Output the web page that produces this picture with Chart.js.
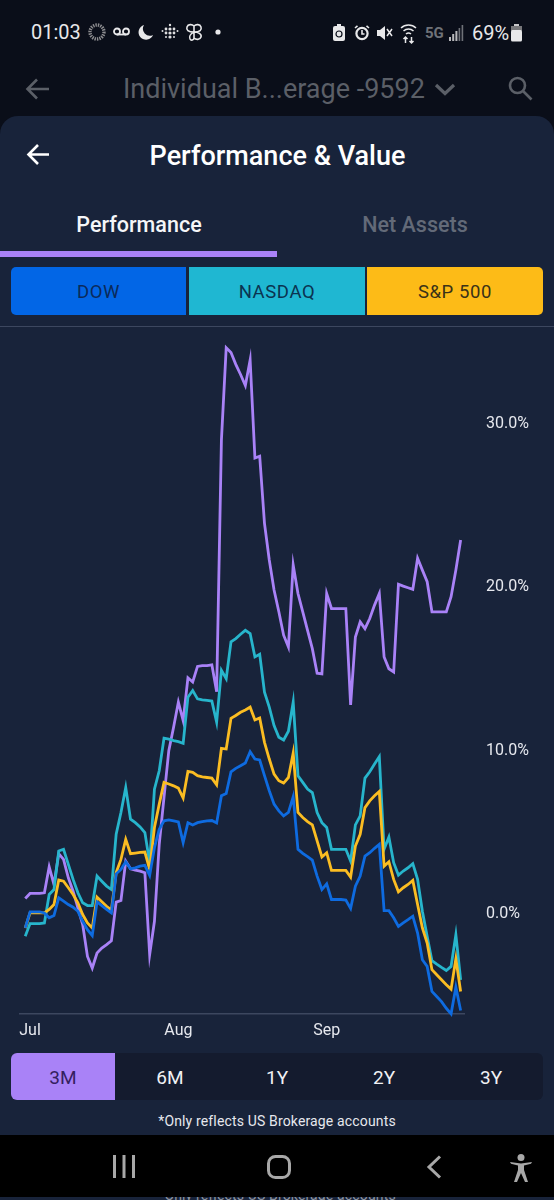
<!DOCTYPE html>
<html><head><meta charset="utf-8">
<script src="https://cdn.jsdelivr.net/npm/chart.js@4"></script>
<style>
html,body{margin:0;padding:0;width:554px;height:1200px;overflow:hidden;background:#0a0e19;font-family:Roboto,sans-serif}
.a{position:absolute;white-space:nowrap;line-height:1}
.c{transform:translateX(-50%)}
#panel{position:absolute;left:0;top:116px;width:554px;height:1019px;background:#18233a;border-radius:18px 18px 0 0}
#nav{position:absolute;left:0;top:1135px;width:554px;height:62px;background:#000}
#strip{position:absolute;left:0;top:1197px;width:554px;height:3px;background:#18233a;overflow:hidden}
.btn{position:absolute;top:267px;height:48px;line-height:50px;text-align:center;font-size:18.5px;letter-spacing:.6px}
canvas{position:absolute;left:0;top:302px}
svg{position:absolute;overflow:visible}
</style></head><body>
<div class="a" style="left:31px;top:22px;font-size:20px;color:#e8e8ea">01:03</div>
<svg style="left:88px;top:23px" width="18" height="18" fill="none"><circle cx="9" cy="9" r="7" stroke="#8d8d90" stroke-width="3.4" stroke-dasharray="1.4 1"/></svg>
<svg style="left:112px;top:27px" width="20" height="10" fill="none" stroke="#e8e8ea" stroke-width="1.8"><circle cx="5" cy="4.5" r="3"/><circle cx="14" cy="4.5" r="3"/><path d="M5 7.5H14"/></svg>
<svg style="left:138px;top:24px" width="16" height="16" fill="#e8e8ea"><path d="M6 1A7.5 7.5 0 1 0 15 11 A7 7 0 0 1 6 1Z"/></svg>
<svg style="left:161px;top:23px" width="18" height="18" fill="#e0e0e2"><circle cx="9" cy="2" r="1.2"/><circle cx="9" cy="6" r="1.6"/><circle cx="9" cy="10" r="1.6"/><circle cx="9" cy="14" r="1.6"/><circle cx="5" cy="6" r="1.4"/><circle cx="5" cy="10" r="1.4"/><circle cx="13" cy="6" r="1.4"/><circle cx="13" cy="10" r="1.4"/><circle cx="1.5" cy="8" r="1"/><circle cx="16.5" cy="8" r="1"/><circle cx="5" cy="14" r="1"/><circle cx="13" cy="14" r="1"/></svg>
<svg style="left:185px;top:23px" width="18" height="18" fill="none" stroke="#e8e8ea" stroke-width="1.6"><path d="M9 9C3 9 1 7 2 4S7 1 9 3V15C9 17 6 18 5 16S5 11 9 9C15 9 17 7 16 4S11 1 9 3M9 9C13 9 17 11 16 14S11 17 9 15"/></svg>
<svg style="left:215px;top:29px" width="6" height="6" fill="#e8e8ea"><circle cx="3" cy="3" r="2.6"/></svg>
<svg style="left:333px;top:24px" width="13" height="18" fill="#e8e8ea"><rect x="0" y="2" width="12" height="15" rx="2"/><rect x="4" y="0" width="4" height="3"/><circle cx="6" cy="10" r="3" fill="none" stroke="#0a0e19" stroke-width="1.2"/></svg>
<svg style="left:354px;top:25px" width="16" height="16" fill="none" stroke="#e8e8ea" stroke-width="2.2"><circle cx="8" cy="8.5" r="5.6"/><path d="M8 5V9H10.5M1 3L3.5 .8M15 3L12.5 .8" stroke-width="1.6"/></svg>
<svg style="left:377px;top:25px" width="16" height="16" fill="#e8e8ea"><path d="M0 5H3L8 1V15L3 11H0Z"/><path d="M10 4L15 11M15 4L10 11" stroke="#e8e8ea" stroke-width="1.5"/></svg>
<svg style="left:400px;top:23px" width="17" height="20" fill="none" stroke="#e8e8ea" stroke-width="1.5"><path d="M1 5A11 11 0 0 1 16 5M3.5 8A7.5 7.5 0 0 1 13.5 8M6 11A4 4 0 0 1 11 11"/><path d="M5.5 14V20M3.5 16L5.5 14L7.5 16M11.5 20V14M9.5 18L11.5 20L13.5 18"/></svg>
<div class="a" style="left:425px;top:26px;font-size:15px;font-weight:700;color:#6f7278">5G</div>
<svg style="left:449px;top:25px" width="15" height="16" fill="#b8b8bb"><rect x="0" y="12" width="2" height="4"/><rect x="3.2" y="9" width="2" height="7"/><rect x="6.4" y="6" width="2" height="10"/><rect x="9.6" y="3" width="1.6" height="13" fill="#6f7278"/><rect x="12.6" y="0" width="1.6" height="16" fill="#6f7278"/></svg>
<div class="a" style="left:472px;top:23px;font-size:20px;color:#e8e8ea">69%</div>
<svg style="left:511px;top:24px" width="11" height="18"><rect x="3" y="0" width="5" height="2" fill="#c8c8ca"/><rect x="0" y="2" width="11" height="5" fill="#77777a"/><rect x="0" y="6" width="11" height="11.5" rx="1.5" fill="#e8e8ea"/></svg>

<svg style="left:26px;top:77px" width="24" height="24" fill="none" stroke="#5b5f67" stroke-width="2.6"><path d="M23 12H2M11 2.5L1.5 12L11 21.5"/></svg>
<div class="a" style="left:123px;top:76px;font-size:27px;color:#5b5f67">Individual B...erage -9592</div>
<svg style="left:434px;top:83px" width="22" height="13" fill="none" stroke="#5b5f67" stroke-width="3.2"><path d="M2 2L11 10.5L20 2"/></svg>
<svg style="left:508px;top:76px" width="25" height="25" fill="none" stroke="#5b5f67" stroke-width="2.6"><circle cx="9.5" cy="9.5" r="7.5"/><path d="M15 15L23.5 23.5"/></svg>

<div id="panel"></div>
<svg style="left:27px;top:143px" width="23" height="23" fill="none" stroke="#fff" stroke-width="2.6"><path d="M22 11.5H2M11 2L1.5 11.5L11 21"/></svg>
<div class="a c" style="left:277.5px;top:143px;font-size:27px;font-weight:500;color:#fff">Performance &amp; Value</div>
<div class="a c" style="left:139px;top:214px;font-size:21.5px;font-weight:500;color:#f5f6f8">Performance</div>
<div class="a c" style="left:415px;top:214px;font-size:21.5px;font-weight:500;color:#636a78">Net Assets</div>
<div style="position:absolute;left:0;top:251px;width:277px;height:6px;background:#a982f7"></div>

<div class="btn" style="left:11px;width:175px;background:#0266e6;color:#0b2a5a;border-radius:5px 0 0 5px">DOW</div>
<div class="btn" style="left:189px;width:176px;background:#1fb7d2;color:#0b3350">NASDAQ</div>
<div class="btn" style="left:367px;width:176px;background:#fdbb17;color:#3a3218;border-radius:0 5px 5px 0">S&amp;P 500</div>
<div style="position:absolute;left:0;top:326px;width:554px;height:1px;background:#3c475f"></div>

<canvas id="chart" width="554" height="748"></canvas>

<div style="position:absolute;left:11px;top:1053px;width:532px;height:47px;background:#141b2e;border-radius:6px"></div>
<div style="position:absolute;left:11px;top:1053px;width:104px;height:47px;background:#a982f7;border-radius:6px 0 0 6px"></div>
<div class="a c" style="left:63px;top:1068px;font-size:19px;color:#35205f">3M</div>
<div class="a c" style="left:170px;top:1068px;font-size:19px;color:#f0f1f4">6M</div>
<div class="a c" style="left:277px;top:1068px;font-size:19px;color:#f0f1f4">1Y</div>
<div class="a c" style="left:384px;top:1068px;font-size:19px;color:#f0f1f4">2Y</div>
<div class="a c" style="left:491px;top:1068px;font-size:19px;color:#f0f1f4">3Y</div>
<div class="a c" style="left:277px;top:1114px;font-size:14px;letter-spacing:.15px;color:#e6e8ee">*Only reflects US Brokerage accounts</div>

<div id="nav"></div>
<svg style="left:113px;top:1155px" width="22" height="24" fill="#a8a8a8"><rect x="0" y="0" width="3" height="23"/><rect x="9.5" y="0" width="3" height="23"/><rect x="19" y="0" width="3" height="23"/></svg>
<svg style="left:267px;top:1155px" width="24" height="24" fill="none" stroke="#a8a8a8" stroke-width="3"><rect x="1.5" y="1.5" width="21" height="21" rx="7"/></svg>
<svg style="left:427px;top:1155px" width="15" height="24" fill="none" stroke="#a8a8a8" stroke-width="3"><path d="M13 1.5L2 12L13 22.5"/></svg>
<svg style="left:510px;top:1162px" width="22" height="30" fill="#a8a8a8" transform="translate(0,-8)"><circle cx="11" cy="3.5" r="3.5"/><path d="M0 8L1 9.8L8 11.5V16L4 28H7L11 19L15 28H18L14 16V11.5L21 9.8L22 8L11 9.5Z"/></svg>
<div id="strip"><div class="a c" style="left:277px;top:-9px;font-size:14px;letter-spacing:.15px;color:#8d93a0">*Only reflects US Brokerage accounts</div></div>

<script>
const monthLabels = ['Jul','Aug','Sep'];
const monthTickDays = [1,32,63];
const yTickValues = [0,10,20,30];
const portfolio = [0.96,1.27,1.27,1.27,1.31,2.90,1.82,3.70,3.35,2.23,1.41,0.39,-0.63,-2.58,-3.29,-2.37,-2.07,-1.86,-1.62,0.74,0.84,3.25,2.78,2.70,2.64,2.54,-2.47,-0.43,4.27,7.14,10.0,11.43,12.97,11.84,14.46,14.2,15.15,15.2,15.2,15.25,13.6,29.0,34.64,34.34,33.62,33.0,32.33,33.89,27.89,28.0,23.9,21.66,19.82,18.49,17.06,16.34,21.35,19.61,18.49,17.36,16.24,14.74,14.70,19.61,18.69,18.69,18.69,18.69,12.80,16.95,17.87,17.46,18.08,18.90,19.61,15.73,15.01,14.81,20.18,20.06,19.96,19.86,21.76,21.04,20.33,18.49,18.49,18.49,18.49,19.41,21.04,22.88];
const nasdaq = [-1.35,-0.57,-0.57,-0.57,-0.53,1.21,1.51,3.87,3.97,3.05,2.13,1.31,0.70,0.53,0.53,2.33,2.02,1.72,1.51,4.89,6.22,7.75,5.81,5.60,5.34,4.99,3.15,7.65,8.77,10.76,10.70,10.61,10.55,10.45,13.27,13.68,13.17,13.11,13.07,13.03,11.74,14.91,14.40,16.65,16.85,17.12,17.36,17.16,15.73,15.89,13.58,12.66,11.53,10.82,10.65,11.19,12.97,8.47,8.06,7.65,7.44,6.22,5.60,5.30,3.97,3.97,3.97,3.97,3.25,5.46,6.01,8.32,8.71,9.18,9.63,3.97,4.72,3.15,2.39,2.64,2.84,3.09,2.13,0.18,-1.35,-2.84,-3.05,-3.25,-3.44,-3.19,-1.25,-4.01];
const sp500 = [-0.84,0.08,0.08,0.08,0.08,0.29,0.59,2.09,2.02,1.62,1.21,0.70,-0.02,-0.53,-0.84,1.04,0.76,0.49,0.25,2.54,3.35,4.58,3.70,3.74,3.78,3.80,2.74,5.30,6.73,8.06,7.96,7.85,7.71,7.10,8.73,8.67,8.47,8.40,8.36,8.32,7.91,10.14,10.10,11.98,12.15,12.35,12.49,12.66,11.88,12.00,10.51,9.49,8.57,8.16,8.02,8.36,9.86,6.22,5.91,5.66,5.46,4.48,3.50,3.76,2.68,2.68,2.68,2.68,2.27,4.17,4.89,6.52,6.93,7.24,7.51,2.94,3.21,2.13,1.37,1.62,1.82,2.07,0.59,-0.84,-1.76,-3.39,-3.70,-4.01,-4.31,-4.58,-2.72,-4.72];
const dow = [-0.84,0.14,0.14,0.14,0.08,-0.22,-0.08,1.00,0.80,0.59,0.43,0.18,-0.43,-0.94,-1.31,0.76,0.53,0.29,0.08,2.47,2.74,3.21,2.78,2.84,2.94,2.99,2.37,4.07,5.19,5.71,5.77,5.71,5.64,4.38,5.60,5.46,5.60,5.66,5.71,5.73,5.58,7.24,7.38,8.71,8.92,9.08,9.24,9.94,9.49,9.43,8.47,7.55,6.73,6.32,6.01,6.22,7.18,3.97,3.72,3.52,3.31,2.33,1.51,1.86,0.90,0.90,0.90,0.86,0.35,1.72,2.33,3.56,3.76,4.03,4.27,0.22,0.22,-0.22,-0.74,-0.53,-0.33,-0.12,-1.15,-2.78,-3.19,-4.72,-5.03,-5.34,-5.75,-6.09,-4.46,-5.89];

const pts = a => a.map((y,x)=>({x,y}));
const line = (label,data,borderColor) => ({label,data:pts(data),borderColor,borderWidth:2.8,pointRadius:0,tension:0,fill:false,borderJoinStyle:'miter',borderCapStyle:'butt',clip:false});
new Chart(document.getElementById('chart'),{
  type:'line',
  data:{datasets:[
    line('DOW',dow,'#0e6be0'),
    line('S&P 500',sp500,'#fbbd22'),
    line('NASDAQ',nasdaq,'#27b5cc'),
    line('Portfolio',portfolio,'#a982f7')
  ]},
  options:{
    responsive:false,animation:false,devicePixelRatio:1,
    layout:{padding:{left:20,top:4,right:0,bottom:0}},
    plugins:{legend:{display:false},tooltip:{enabled:false}},
    scales:{
      x:{type:'linear',min:-1.1,max:91.7,
        grid:{display:false,drawTicks:false},
        border:{display:true,color:'#3c475f',width:1.5},
        afterBuildTicks:s=>{s.ticks=monthTickDays.map(value=>({value}))},
        afterFit:s=>{s.height=36},
        ticks:{autoSkip:false,maxRotation:0,padding:7,color:'#e6e8ee',font:{family:'Roboto',size:16},callback:(v,i)=>monthLabels[i]}
      },
      y:{type:'linear',position:'right',min:-6.1,max:35.5,
        grid:{display:false,drawTicks:false},
        border:{display:false},
        afterBuildTicks:s=>{s.ticks=yTickValues.map(value=>({value}))},
        afterFit:s=>{s.width=90},
        ticks:{padding:22,color:'#e6e8ee',font:{family:'Roboto',size:16},callback:v=>v.toFixed(1)+'%'}
      }
    }
  }
});
</script>
</body></html>
